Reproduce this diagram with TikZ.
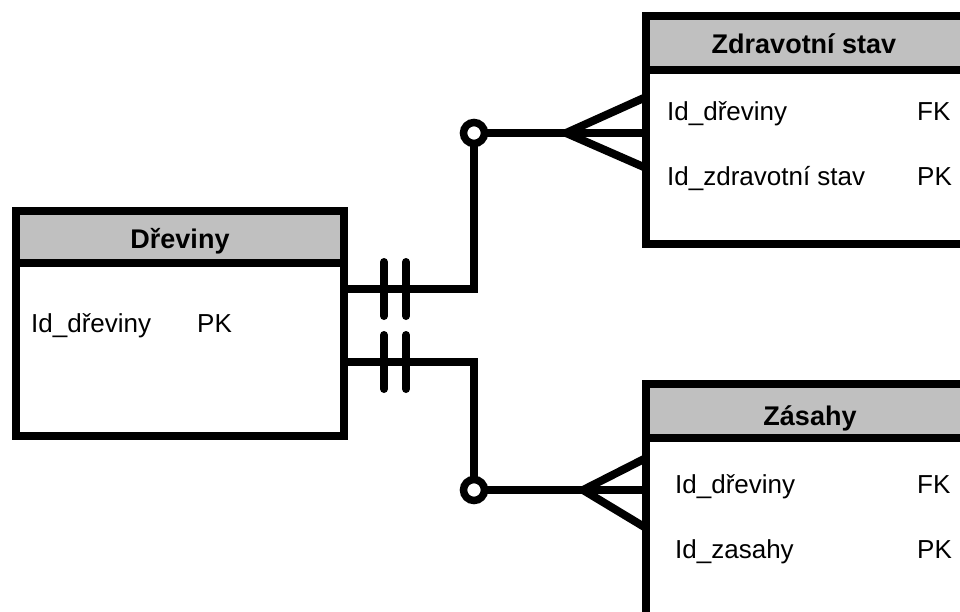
\documentclass[tikz,border=0pt]{standalone}
\usepackage{fontspec}
\setmainfont{Liberation Sans}
\usetikzlibrary{calc}
\definecolor{ergray}{HTML}{C0C0C0}
\tikzset{
  entity/.style={draw=black, fill=white, line width=8pt, inner sep=0pt, outer sep=0pt},
  headbox/.style={entity, fill=ergray},
  headlbl/.style={font=\bfseries\fontsize{27}{32}\selectfont, anchor=base, inner sep=0pt},
  fieldlbl/.style={font=\fontsize{26}{31}\selectfont, anchor=base west, inner sep=0pt},
  rel/.style={line width=8pt},
  crowfoot/.style={line width=8pt, line join=miter},
  onebar/.style={line width=8pt, line cap=round},
  optcirc/.style={circle, draw=black, fill=white, line width=7.5pt, minimum size=21pt,
    inner sep=0pt, outer sep=0pt},
}
\begin{document}
\begin{tikzpicture}[x=1pt, y=-1pt]
\useasboundingbox (0,0) rectangle (960,611);
\clip (0,0) rectangle (960,611);
% entity Dreviny
\node[entity, minimum width=328pt, minimum height=225pt] (drev) at (180,323.5) {};
\node[headbox, minimum width=328pt, minimum height=51.5pt, anchor=north] (drevhead) at (drev.north) {};
\node[headlbl] (drevname) at (180,248) {Dřeviny};
\node[fieldlbl] (drevid) at (31,332) {Id\_dřeviny};
\node[fieldlbl] (drevpk) at (197,332) {PK};
% entity Zdravotni stav
\node[entity, minimum width=354pt, minimum height=228pt] (zdrav) at (823,130) {};
\node[headbox, minimum width=354pt, minimum height=53.5pt, anchor=north] (zdravhead) at (zdrav.north) {};
\node[headlbl] (zdravname) at (804,53) {Zdravotní stav};
\node[fieldlbl] (zdravid) at (667,120) {Id\_dřeviny};
\node[fieldlbl] (zdravfk) at (917,120) {FK};
\node[fieldlbl] (zdravst) at (667,185) {Id\_zdravotní stav};
\node[fieldlbl] (zdravpk) at (917,185) {PK};
% entity Zasahy
\node[entity, minimum width=354pt, minimum height=266pt] (zas) at (823,517) {};
\node[headbox, minimum width=354pt, minimum height=53.5pt, anchor=north] (zashead) at (zas.north) {};
\node[headlbl] (zasname) at (810,425) {Zásahy};
\node[fieldlbl] (zasid) at (675,493) {Id\_dřeviny};
\node[fieldlbl] (zasfk) at (917,493) {FK};
\node[fieldlbl] (zaszs) at (675,558) {Id\_zasahy};
\node[fieldlbl] (zaspk) at (917,558) {PK};
% Dreviny -- Zdravotni stav
\coordinate (bendA) at (474,289);
\node[optcirc] (circA) at (474,133) {};
\coordinate (footA) at (566,133);
\draw[rel] (drev.east |- bendA) -- (bendA) -- (circA);
\draw[rel] (circA) -- (zdrav.west |- circA);
\draw[crowfoot] ($(zdrav.west |- circA)+(0,-36)$) -- (footA) -- ($(zdrav.west |- circA)+(0,35)$);
\foreach \dx in {40,62}
  \draw[onebar] ($(drev.east |- bendA)+(\dx,-27)$) -- ++(0,54);
% Dreviny -- Zasahy
\coordinate (bendB) at (474,362);
\node[optcirc] (circB) at (474,490) {};
\coordinate (footB) at (583,490);
\draw[rel] (drev.east |- bendB) -- (bendB) -- (circB);
\draw[rel] (circB) -- (zas.west |- circB);
\draw[crowfoot] ($(zas.west |- circB)+(0,-32)$) -- (footB) -- ($(zas.west |- circB)+(0,38)$);
\foreach \dx in {40,62}
  \draw[onebar] ($(drev.east |- bendB)+(\dx,-27)$) -- ++(0,54);
\end{tikzpicture}
\end{document}
